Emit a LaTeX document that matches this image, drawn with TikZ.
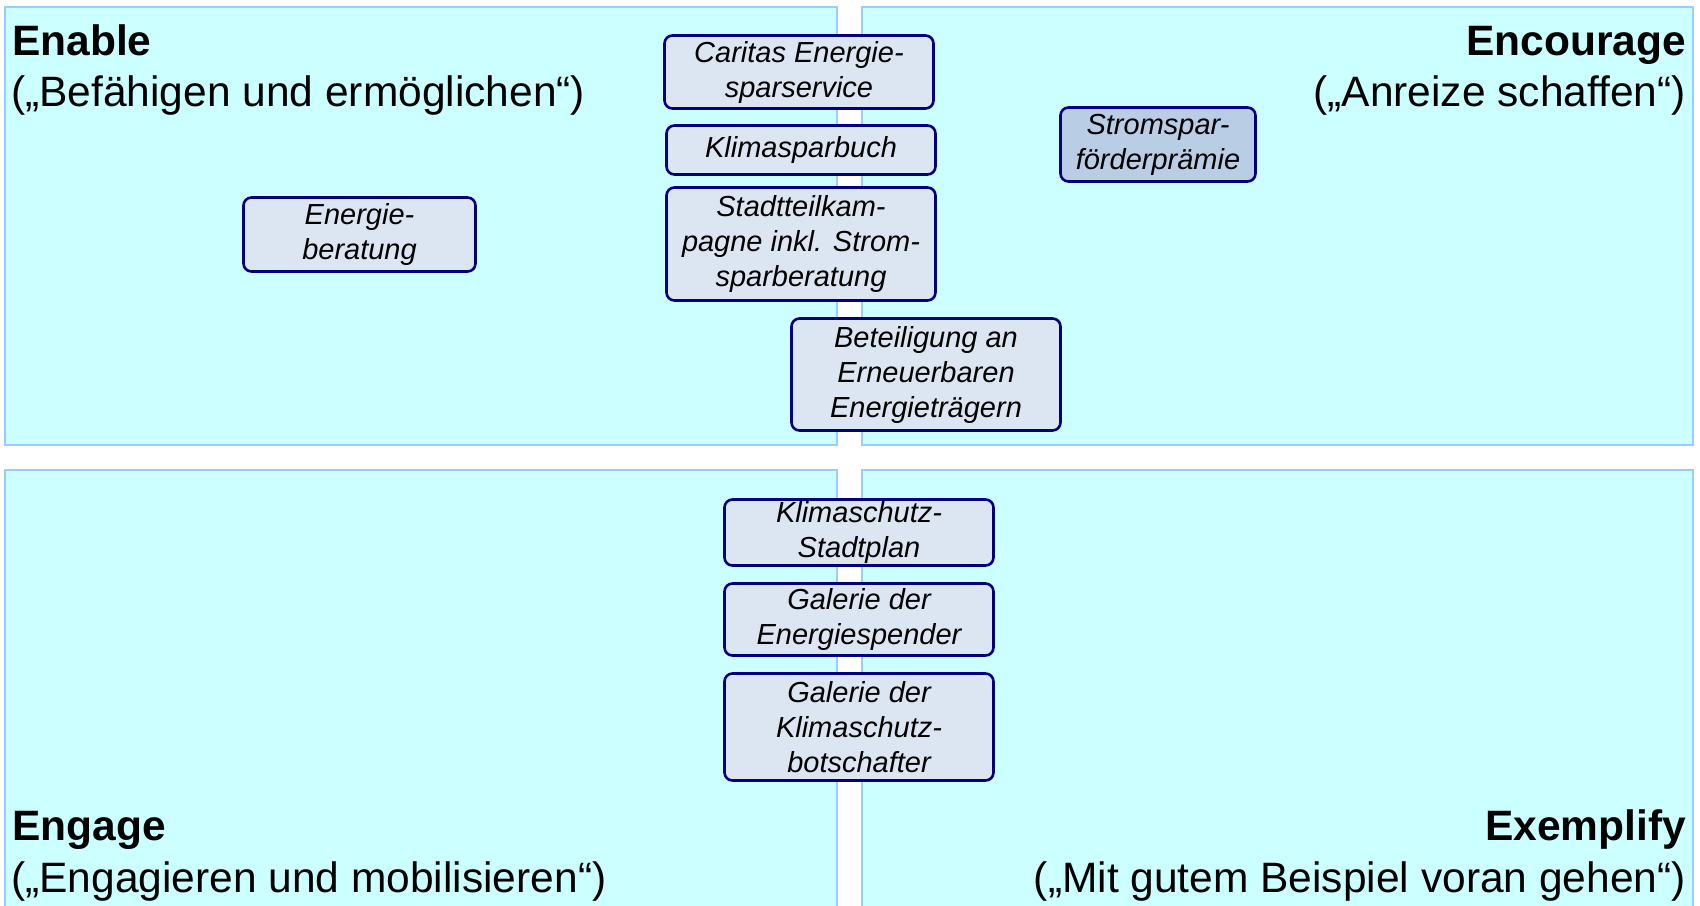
\documentclass[tikz,border=0pt]{standalone}
\usepackage{fontspec}
\setmainfont{Liberation Sans}
\usepackage{xcolor}
\definecolor{feldcyan}{RGB}{204,255,255}
\definecolor{feldrand}{RGB}{153,204,255}
\definecolor{boxhell}{RGB}{220,230,242}
\definecolor{boxdunkel}{RGB}{185,205,229}
\definecolor{boxrand}{RGB}{0,0,128}
\usepackage{tikz}
\tikzset{
  massnahme/.style={draw=boxrand,line width=2.6pt,fill=boxhell,rounded corners=8pt,
    align=center,inner sep=0pt,font=\fontsize{29}{35}\selectfont\itshape},
  titel/.style={inner sep=0pt,font=\fontsize{42.5}{51}\selectfont\bfseries},
  untertitel/.style={inner sep=0pt,font=\fontsize{42.5}{51}\selectfont},
}
\newcommand{\feld}[4]{\draw[feldrand,line width=2pt,fill=feldcyan] (#1,#2) rectangle (#3,#4);}

\begin{document}
\begin{tikzpicture}[x=1pt,y=-1pt]
\useasboundingbox (0,0) rectangle (1700,905);
\clip (0,0) rectangle (1700,905);
% ---- FELDER ----
\feld{5}{7}{837}{445}
\feld{862}{7}{1693}{445}
\feld{5}{470}{837}{915}
\feld{862}{470}{1693}{915}
% ---- TITEL ----
\node[titel,anchor=base west] (enable) at (12,55) {Enable};
\node[untertitel,anchor=base west] (enableu) at (11,106) {(„Befähigen und ermöglichen“)};
\node[titel,anchor=base east] (encourage) at (1686,55) {Encourage};
\node[untertitel,anchor=base east] (encourageu) at (1686,106) {(„Anreize schaffen“)};
\node[titel,anchor=base west] (engage) at (12,840) {Engage};
\node[untertitel,anchor=base west] (engageu) at (11,892) {(„Engagieren und mobilisieren“)};
\node[titel,anchor=base east] (exemplify) at (1686,840) {Exemplify};
\node[untertitel,anchor=base east] (exemplifyu) at (1686,892) {(„Mit gutem Beispiel voran gehen“)};
% ---- MASSNAHMEN OBEN ----
\node[massnahme,minimum width=269,minimum height=73] (caritas) at (799,72) {Caritas Energie-\\sparservice};
\node[massnahme,minimum width=269,minimum height=49] (sparbuch) at (801,150) {Klimasparbuch};
\node[massnahme,minimum width=269,minimum height=113] (stadtteil) at (801,244) {Stadtteilkam-\\pagne inkl. Strom-\\sparberatung};
\node[massnahme,minimum width=269,minimum height=112] (beteiligung) at (926,374.5) {Beteiligung an\\Erneuerbaren\\Energieträgern};
\node[massnahme,minimum width=232,minimum height=74] (beratung) at (359.5,234.5) {Energie-\\beratung};
\node[massnahme,fill=boxdunkel,minimum width=195,minimum height=74] (praemie) at (1158,144.5) {Stromspar-\\förderprämie};
% ---- MASSNAHMEN UNTEN ----
\node[massnahme,minimum width=269,minimum height=66] (stadtplan) at (859,532.5) {Klimaschutz-\\Stadtplan};
\node[massnahme,minimum width=269,minimum height=72] (spender) at (859,619.5) {Galerie der\\Energiespender};
\node[massnahme,minimum width=269,minimum height=107] (botschafter) at (859,727) {Galerie der\\Klimaschutz-\\botschafter};
\end{tikzpicture}
\end{document}
